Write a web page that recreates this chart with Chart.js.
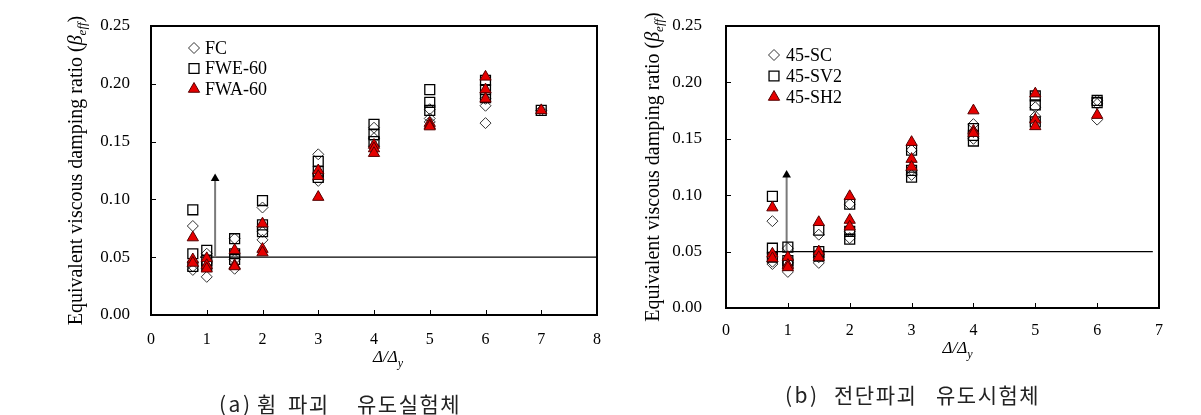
<!DOCTYPE html>
<html>
<head>
<meta charset="utf-8">
<script src="https://cdn.jsdelivr.net/npm/chart.js@4.4.0/dist/chart.umd.min.js"></script>
<style>
  body { margin: 0; background: #fff; width: 1201px; height: 415px; position: relative; overflow: hidden; }
  #c1 { position: absolute; left: 0; top: 0; }
  #c2 { position: absolute; left: 615px; top: 0; }
  .cap { position: absolute; left: 0; font-family: "Noto Sans CJK KR", sans-serif; font-size: 21px; line-height: 21px;
         letter-spacing: 1.5px; color: #222; white-space: pre; }
  .cap span { position: absolute; top: 0; }
  .cap .par { letter-spacing: 2.5px; }
</style>
</head>
<body>
<canvas id="c1" width="615" height="415"></canvas>
<canvas id="c2" width="586" height="415"></canvas>
<div class="cap" style="top:393px"><span class="par" style="left:219px">(a)</span> <span style="left:257px">휨</span> <span style="left:288px">파괴</span> <span style="left:357px">유도실험체</span></div>
<div class="cap" style="top:384px"><span class="par" style="left:785px">(b)</span> <span style="left:834px">전단파괴</span> <span style="left:936px">유도시험체</span></div>
<script>
// (a) flexure-failure specimens, Δ/Δy steps
const xFlex = [0.75, 1, 1.5, 2, 3, 4, 5, 6, 7];
const fcVals = [
  [0.077, 0.042, 0.039], [0.053, 0.045, 0.033], [0.066, 0.048, 0.040], [0.093, 0.072, 0.065],
  [0.139, 0.122, 0.116], [0.162, 0.153, 0.146], [0.178, 0.170, 0.167], [0.187, 0.181, 0.166], [0.177]
];
const fwe60Vals = [
  [0.091, 0.053, 0.042], [0.056, 0.047, 0.043], [0.066, 0.053, 0.048], [0.099, 0.078, 0.072],
  [0.133, 0.124, 0.119], [0.165, 0.156, 0.150], [0.195, 0.184, 0.177], [0.203, 0.195, 0.188], [0.177]
];
const fwa60Vals = [
  [0.067, 0.048, 0.045], [0.049, 0.043, 0.040], [0.056, 0.043, 0.042], [0.079, 0.057, 0.054],
  [0.125, 0.120, 0.102], [0.147, 0.144, 0.140], [0.166, 0.164, 0.163], [0.206, 0.195, 0.187], [0.177]
];

// (b) shear-failure specimens
const xShear = [0.75, 1, 1.5, 2, 3, 4, 5, 6];
const scVals = [
  [0.077, 0.041, 0.039], [0.053, 0.040, 0.032], [0.065, 0.045, 0.040], [0.092, 0.068, 0.062],
  [0.140, 0.122, 0.118], [0.163, 0.156, 0.150], [0.178, 0.170, 0.165], [0.184, 0.181, 0.167]
];
const sv2Vals = [
  [0.099, 0.053, 0.045], [0.054, 0.042, 0.039], [0.069, 0.050, 0.046], [0.092, 0.068, 0.061],
  [0.140, 0.122, 0.116], [0.159, 0.153, 0.148], [0.188, 0.180, 0.165], [0.184, 0.182]
];
const sh2Vals = [
  [0.089, 0.048, 0.044], [0.045, 0.038, 0.036], [0.076, 0.050, 0.045], [0.099, 0.078, 0.072],
  [0.147, 0.132, 0.125], [0.175, 0.157, 0.155], [0.190, 0.167, 0.161], [0.171]
];

const flexLabels = ['FC', 'FWE-60', 'FWA-60'];
const shearLabels = ['45-SC', '45-SV2', '45-SH2'];
const yTickLabels = ['0.00', '0.05', '0.10', '0.15', '0.20', '0.25'];
const targetRatio = 0.05;   // horizontal reference line
const arrowX = [1.15, 0.98];
const arrowTop = 0.118;

const serif = '"Times New Roman", "Liberation Serif", serif';

const markers = [
  { pointStyle: 'rectRot', radius: 5.5, bg: 'rgba(255,255,255,0)', border: '#333', bw: 1 },
  { pointStyle: 'rect', radius: 7, bg: 'rgba(255,255,255,0)', border: '#000', bw: 1.3 },
  { pointStyle: 'triangle', radius: 6.5, bg: '#e60000', border: '#500', bw: 1 }
];

function toPoints(xs, vals) {
  const pts = [];
  xs.forEach((x, i) => (vals[i] || []).forEach(v => pts.push({ x: x, y: v })));
  return pts;
}

function markerSet(label, pts, m, order) {
  return {
    label: label, data: pts, order: order,
    pointStyle: m.pointStyle, pointRadius: m.radius,
    pointBackgroundColor: m.bg, pointBorderColor: m.border, pointBorderWidth: m.bw,
    showLine: false
  };
}

function drawMarker(ctx, m, x, y) {
  ctx.save();
  ctx.fillStyle = m.bg;
  ctx.strokeStyle = m.border;
  ctx.lineWidth = m.bw;
  Chart.helpers.drawPoint(ctx, { pointStyle: m.pointStyle, radius: m.radius, rotation: 0, borderWidth: m.bw }, x, y);
  ctx.restore();
}

const framePlugin = {
  id: 'frame',
  afterDraw(chart, args, o) {
    const ctx = chart.ctx;
    const a = chart.chartArea;
    const xs = chart.scales.x, ys = chart.scales.y;
    ctx.save();
    // inward tick marks
    ctx.strokeStyle = '#000';
    ctx.lineWidth = 1;
    ctx.beginPath();
    ys.ticks.forEach(t => {
      const py = Math.round(ys.getPixelForValue(t.value)) + 0.5;
      ctx.moveTo(a.left, py); ctx.lineTo(a.left + 5, py);
    });
    xs.ticks.forEach(t => {
      const px = Math.round(xs.getPixelForValue(t.value)) + 0.5;
      ctx.moveTo(px, a.bottom); ctx.lineTo(px, a.bottom - 5);
    });
    ctx.stroke();
    // plot frame
    ctx.lineWidth = 2;
    ctx.strokeRect(a.left, a.top, a.right - a.left, a.bottom - a.top);

    // legend inside plot
    ctx.font = '18px ' + serif;
    ctx.textBaseline = 'middle';
    ctx.textAlign = 'left';
    o.labels.forEach((lab, i) => {
      const mx = a.left + o.legendX, my = a.top + o.legendY + i * o.legendGap;
      drawMarker(ctx, markers[i], mx, my);
      ctx.fillStyle = '#000';
      ctx.fillText(lab, mx + o.legendText, my + 1);
    });

    // y title, rotated, with subscript
    ctx.save();
    ctx.fillStyle = '#000';
    ctx.translate(a.left - o.yTitleOff, (a.top + a.bottom) / 2);
    ctx.rotate(-Math.PI / 2);
    ctx.textBaseline = 'alphabetic';
    const f1 = '20px ' + serif, f2 = 'italic 20px ' + serif, f3 = 'italic 13px ' + serif;
    const parts = [['Equivalent viscous damping ratio (', f1, 0], ['\u03b2', f2, 0], ['eff', f3, 4], [')', f1, 0]];
    let total = 0;
    parts.forEach(p => { ctx.font = p[1]; p.push(ctx.measureText(p[0]).width); total += p[3]; });
    let cx = -total / 2;
    parts.forEach(p => { ctx.font = p[1]; ctx.fillText(p[0], cx, 7 + p[2]); cx += p[3]; });
    ctx.restore();

    // x title Δ/Δy
    const bx = (a.left + a.right) / 2 + o.xTitleShift, by = a.bottom + o.xTitleDrop;
    ctx.fillStyle = '#000';
    ctx.textBaseline = 'alphabetic';
    ctx.font = 'italic 17px ' + serif;
    ctx.fillText('\u0394/\u0394', bx, by);
    const w = ctx.measureText('\u0394/\u0394').width;
    ctx.font = 'italic 12px ' + serif;
    ctx.fillText('y', bx + w, by + 5);
    ctx.restore();
  }
};

function makeChart(id, xs, series, labels, xMax, box, arrX, lineStart, lineEnd, extra) {
  const datasets = series.map((vals, i) => markerSet(labels[i], toPoints(xs, vals), markers[i], 3 - i));
  datasets.push({
    label: 'ref', data: [{ x: lineStart, y: targetRatio }, { x: lineEnd, y: targetRatio }],
    showLine: true, borderColor: '#000', borderWidth: 1.2, pointRadius: 0, order: 10
  });
  datasets.push({
    label: 'arrow', data: [{ x: arrX, y: targetRatio }, { x: arrX, y: arrowTop }],
    showLine: true, borderColor: '#7a7a7a', borderWidth: 2,
    pointRadius: [0, 5], pointStyle: 'triangle', pointBackgroundColor: '#000', pointBorderColor: '#000',
    pointBorderWidth: 0, order: 9
  });

  const canvas = document.getElementById(id);
  const fit = { yW: box.left, xH: canvas.height - box.bottom };
  const padding = { left: 0, top: box.top, right: canvas.width - box.right, bottom: 0 };
  // label gap is done with invisible tick marks: ticks.padding would also pad the plot top
  const hiddenTicks = len => ({ display: true, drawOnChartArea: false, drawTicks: true, tickLength: len, tickColor: 'rgba(0,0,0,0)' });
  const chart = new Chart(canvas, {
    type: 'scatter',
    data: { datasets: datasets },
    options: {
      responsive: false,
      animation: false,
      events: [],
      layout: { padding: padding },
      plugins: {
        legend: { display: false },
        tooltip: { enabled: false },
        frame: Object.assign({ labels: labels }, extra)
      },
      scales: {
        x: {
          type: 'linear', min: 0, max: xMax,
          grid: hiddenTicks(extra.xPad),
          border: { display: false },
          ticks: { stepSize: 1, padding: 0, color: '#000', font: { family: serif, size: 16 } },
          afterFit: s => { s.height = fit.xH; }
        },
        y: {
          type: 'linear', min: 0, max: 0.25,
          grid: hiddenTicks(extra.yPad),
          border: { display: false },
          ticks: {
            stepSize: 0.05, padding: 0, color: '#000', font: { family: serif, size: 17 },
            callback: (v, i) => yTickLabels[i]
          },
          afterFit: s => { s.width = fit.yW; }
        }
      }
    },
    plugins: [framePlugin]
  });

  // nudge the layout so the plot area sits where the reference has it
  const a0 = Object.assign({}, chart.chartArea);
  chart.options.layout.padding = {
    left: 0,
    top: padding.top + box.top - a0.top,
    right: padding.right + a0.right - box.right,
    bottom: 0
  };
  fit.yW += box.left - a0.left;
  fit.xH += a0.bottom - box.bottom;
  chart.update();
  return chart;
}

makeChart('c1', xFlex, [fcVals, fwe60Vals, fwa60Vals], flexLabels, 8,
  { left: 151, top: 26, right: 597, bottom: 315 }, arrowX[0], 0.88, 8,
  { legendX: 43, legendY: 22, legendGap: 20.5, legendText: 11, yTitleOff: 76, xTitleShift: -1, xTitleDrop: 47, yPad: 21, xPad: 15 });
makeChart('c2', xShear, [scVals, sv2Vals, sh2Vals], shearLabels, 7,
  { left: 111, top: 26, right: 544, bottom: 308 }, arrowX[1], 0.75, 6.9,
  { legendX: 48, legendY: 29, legendGap: 21, legendText: 12, yTitleOff: 74, xTitleShift: 0, xTitleDrop: 45, yPad: 24, xPad: 13 });
</script>
</body>
</html>
